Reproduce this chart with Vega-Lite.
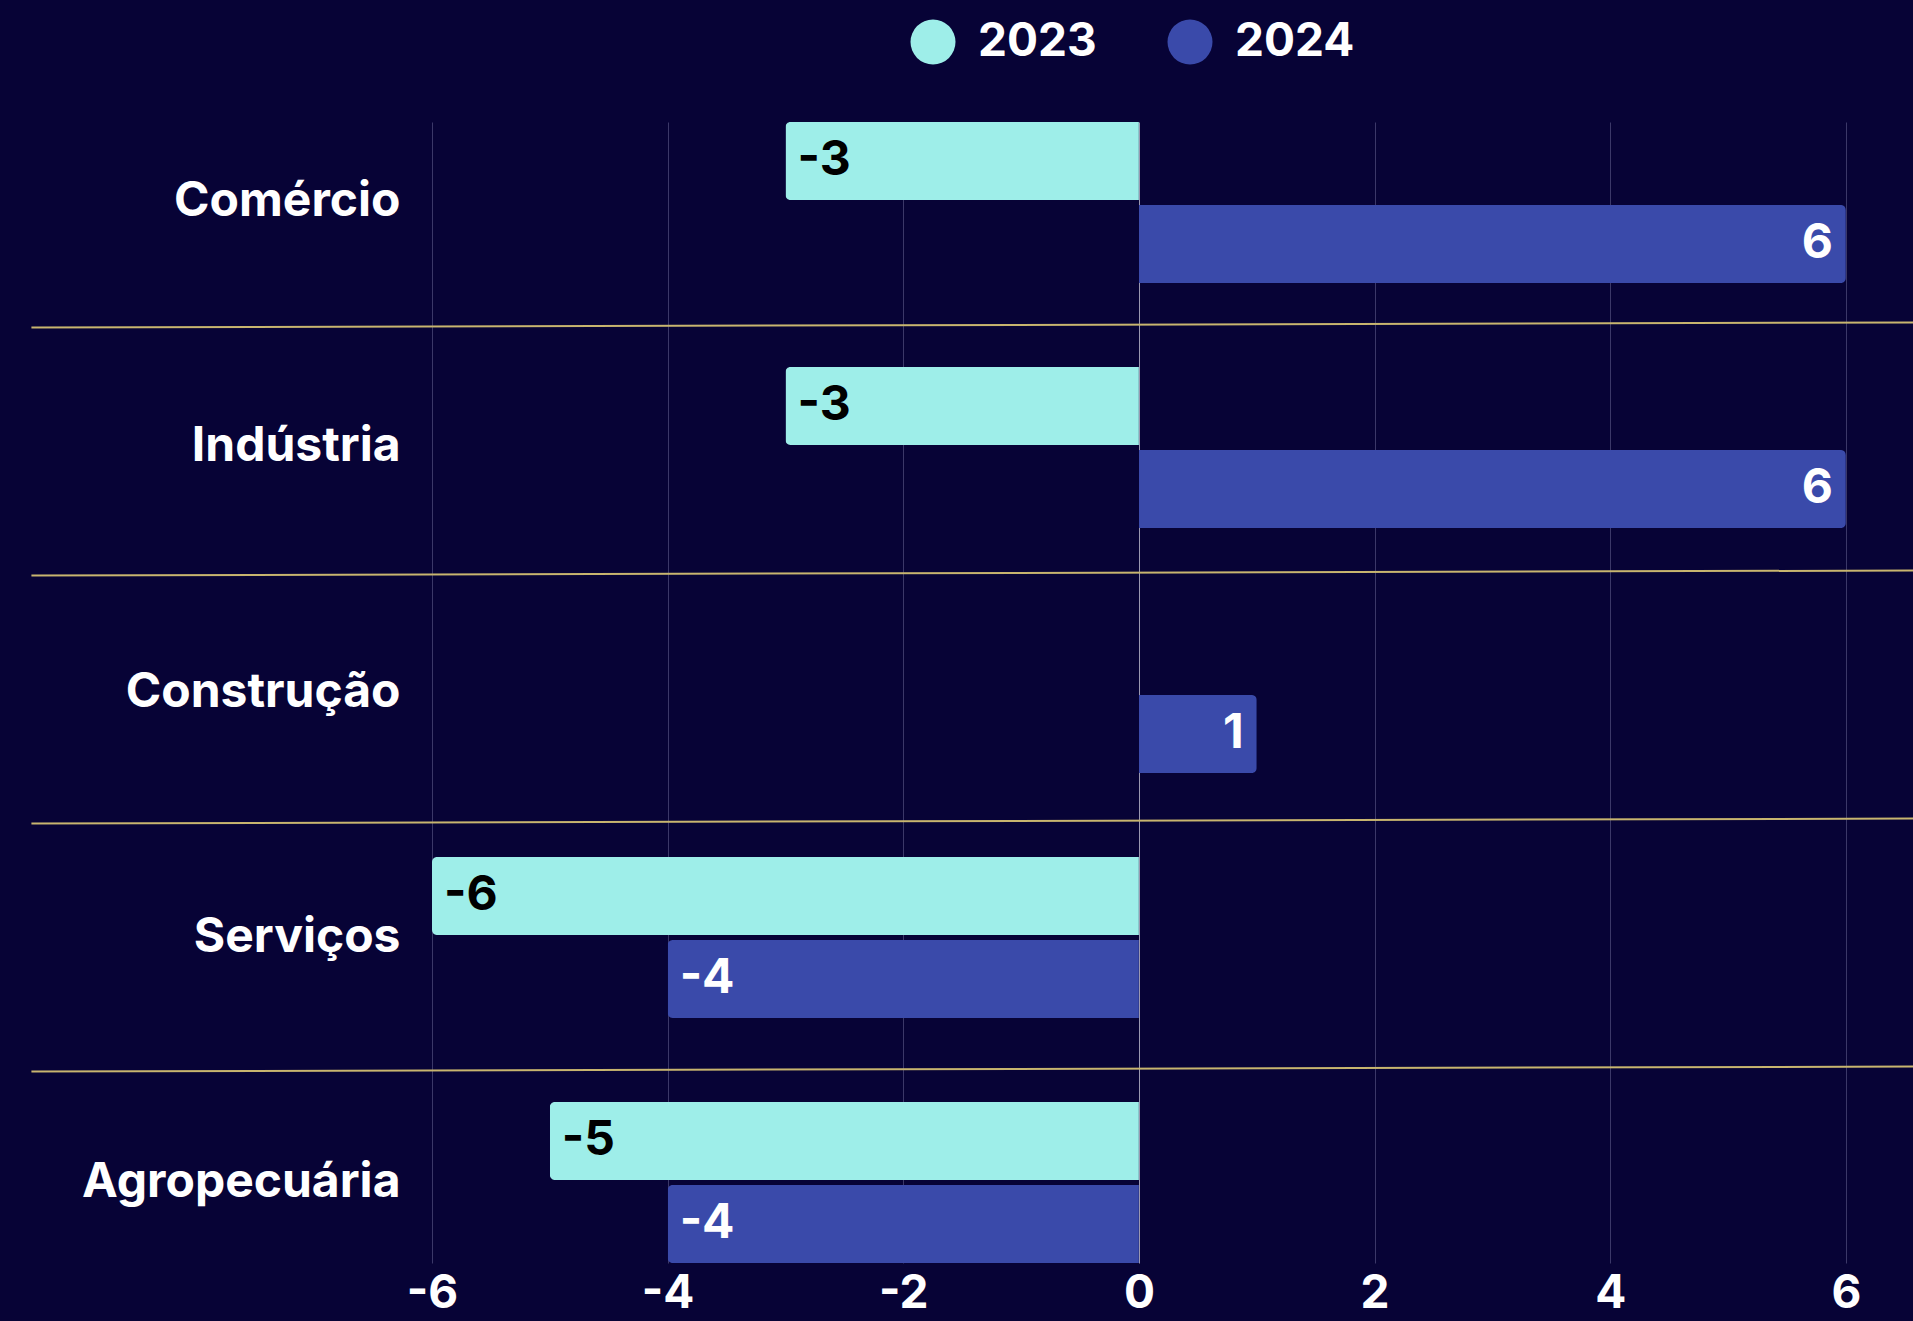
{
  "$schema": "https://vega.github.io/schema/vega-lite/v6.json",
  "autosize": "none",
  "width": 1481,
  "height": 1141,
  "padding": {"left": 432, "top": 122, "right": 0, "bottom": 58},
  "background": "#070336",
  "config": {"view": {"stroke": null}, "font": "Inter"},
  "datasets": {
    "bars": [
      {"cat": "Comércio", "year": "2023", "value": -3},
      {"cat": "Comércio", "year": "2024", "value": 6},
      {"cat": "Indústria", "year": "2023", "value": -3},
      {"cat": "Indústria", "year": "2024", "value": 6},
      {"cat": "Construção", "year": "2024", "value": 1},
      {"cat": "Serviços", "year": "2023", "value": -6},
      {"cat": "Serviços", "year": "2024", "value": -4},
      {"cat": "Agropecuária", "year": "2023", "value": -5},
      {"cat": "Agropecuária", "year": "2024", "value": -4}
    ],
    "seps": [{"b": 1}, {"b": 2}, {"b": 3}, {"b": 4}]
  },
  "layer": [
    {
      "data": {"name": "bars"},
      "encoding": {
        "y": {
          "field": "cat", "type": "nominal",
          "sort": ["Comércio", "Indústria", "Construção", "Serviços", "Agropecuária"],
          "scale": {"domain": ["Comércio", "Indústria", "Construção", "Serviços", "Agropecuária"], "paddingInner": 0.343, "paddingOuter": 0}
        },
        "yOffset": {"field": "year", "type": "nominal", "scale": {"domain": ["2023", "2024"], "paddingInner": 0.06, "paddingOuter": 0}},
        "x": {"field": "value", "type": "quantitative", "scale": {"domain": [-6, 6.57], "nice": false, "zero": false}}
      },
      "layer": [
        {
          "transform": [{"filter": "datum.value < 0"}],
          "mark": {"type": "bar", "cornerRadiusTopLeft": 5, "cornerRadiusBottomLeft": 5},
          "encoding": {
            "y": {
              "field": "cat", "type": "nominal",
              "sort": ["Comércio", "Indústria", "Construção", "Serviços", "Agropecuária"],
              "axis": {"title": null, "domain": false, "ticks": false, "grid": false, "labelPadding": 32, "labelLimit": 0,
                "labelFontSize": 48, "labelFontWeight": "bold", "labelColor": "#ffffff", "labelFont": "Inter"}
            },
            "x": {
              "field": "value", "type": "quantitative",
              "axis": {"title": null, "values": [-6, -4, -2, 0, 2, 4, 6], "domain": false, "ticks": false, "tickSize": 0,
                "labelPadding": 8, "labelFlush": false, "labelFontSize": 46, "labelFontWeight": "bold", "labelColor": "#ffffff", "labelFont": "Inter",
                "labelExpr": "toString(datum.value)", "grid": true, "gridWidth": 1,
                "gridColor": {"condition": {"test": "datum.value === 0", "value": "#9a98b0"}, "value": "#3b3868"}}
            },
            "color": {
              "field": "year", "type": "nominal",
              "scale": {"domain": ["2023", "2024"], "range": ["#9EEEE9", "#3A4AAA"]},
              "legend": {"orient": "none", "legendX": 478, "legendY": -103, "direction": "horizontal", "title": null,
                "symbolType": "circle", "symbolSize": 2025, "symbolStrokeWidth": 0, "symbolOpacity": 1,
                "labelFontSize": 46, "labelFont": "Inter", "labelFontWeight": "bold", "labelColor": "#ffffff",
                "labelOffset": 22, "columnPadding": 70, "padding": 0}
            }
          }
        },
        {
          "transform": [{"filter": "datum.value > 0"}],
          "mark": {"type": "bar", "cornerRadiusTopRight": 5, "cornerRadiusBottomRight": 5},
          "encoding": {
            "color": {"field": "year", "type": "nominal"}
          }
        },
        {
          "transform": [{"filter": "datum.value < 0"}],
          "mark": {"type": "text", "align": "left", "dx": 12, "baseline": "middle", "fontSize": 48, "fontWeight": "bold", "font": "Inter"},
          "encoding": {
            "text": {"field": "value", "type": "nominal"},
            "color": {"condition": {"test": "datum.year === '2023'", "value": "#000000"}, "value": "#ffffff"}
          }
        },
        {
          "transform": [{"filter": "datum.value > 0"}],
          "mark": {"type": "text", "align": "right", "dx": -13, "baseline": "middle", "fontSize": 48, "fontWeight": "bold", "font": "Inter"},
          "encoding": {
            "text": {"field": "value", "type": "nominal"},
            "color": {"condition": {"test": "datum.year === '2023'", "value": "#000000"}, "value": "#ffffff"}
          }
        }
      ]
    },
    {
      "data": {"name": "seps"},
      "mark": {"type": "rule", "color": "#C8B56F", "strokeWidth": 2, "yOffset": 2.5, "y2Offset": -2.5},
      "encoding": {
        "y": {"field": "b", "type": "quantitative", "scale": {"domain": [0.1815, 4.782], "reverse": true, "nice": false, "zero": false}, "axis": null},
        "y2": {"field": "b"},
        "x": {"datum": -9.4, "type": "quantitative", "scale": {"domain": [-6, 6.57], "nice": false, "zero": false}},
        "x2": {"datum": 6.57}
      }
    }
  ],
  "resolve": {"scale": {"y": "independent"}}
}
